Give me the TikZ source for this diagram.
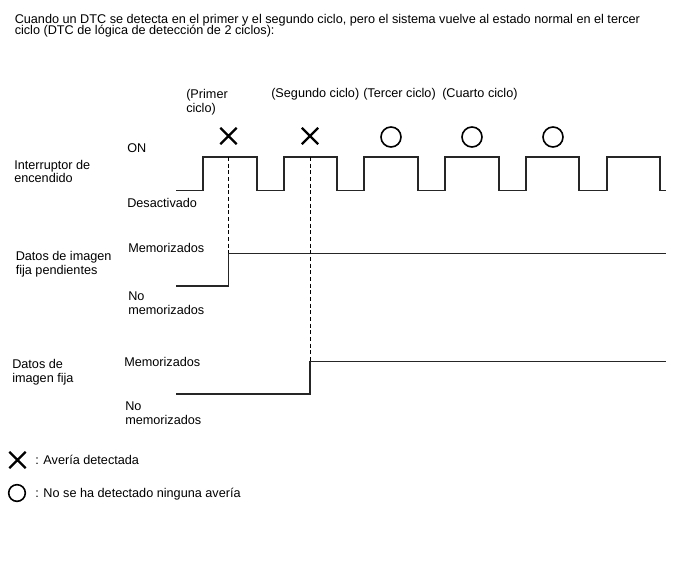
\documentclass[tikz,border=0pt]{standalone}
\usepackage{fontspec}
\setmainfont{Liberation Sans}
\usetikzlibrary{shapes.misc}
\lineskiplimit=-10pt
\begin{document}
\begin{tikzpicture}[x=0.75pt, y=-0.75pt,
	lbl/.style={anchor=base west, inner sep=0, align=left, font=\fontsize{9.5}{10}\selectfont},
	sig/.style={line width=1pt, black!85},
	fault/.style={cross out, draw, line width=1.7pt, minimum size=10.5pt, inner sep=0},
	ok/.style={circle, draw, line width=1.2pt, minimum size=15pt, inner sep=0}]
	\useasboundingbox (0,0) rectangle (688,560);
	\node [lbl, font=\fontsize{9.5}{8.25}\selectfont] (title) at (14.5,34.3) {Cuando un DTC se detecta en el primer y el segundo ciclo, pero el sistema vuelve al estado normal en el tercer\\ciclo (DTC de lógica de detección de 2 ciclos):};
	\node [lbl] (c1) at (186,112) {(Primer\\ciclo)};
	\node [lbl] (c2) at (271,98) {(Segundo ciclo)};
	\node [lbl] (c3) at (363,98) {(Tercer ciclo)};
	\node [lbl] (c4) at (442,98) {(Cuarto ciclo)};
	\node [fault] (x1) at (228.5,136) {};
	\node [fault] (x2) at (310,136) {};
	\node [ok] (o1) at (391,137) {};
	\node [ok] (o2) at (472,137) {};
	\node [ok] (o3) at (553,137) {};
	\node [lbl] (sw) at (14,182.5) {Interruptor de\\encendido};
	\node [lbl] (on) at (127,152) {ON};
	\node [lbl] (off) at (127,207) {Desactivado};
	\draw [sig] (176,190.5) -| (203,157) -| (257,190.5) -| (284,157) -| (337,190.5) -| (364,157) -| (418,190.5) -| (445,157) -| (499,190.5) -| (526,157) -| (579,190.5) -| (607,157) -| (660,190.5) -- (666,190.5);
	\node [lbl] (pend) at (15.5,274) {Datos de imagen\\fija pendientes};
	\node [lbl] (pm) at (128,252.7) {Memorizados};
	\node [lbl] (pn) at (128,314) {No\\memorizados};
	\draw [sig] (176,286) -| (228.5,253.3) -- (666,253.3);
	\node [lbl] (fix) at (12,382) {Datos de\\imagen fija};
	\node [lbl] (fm) at (124,366) {Memorizados};
	\node [lbl] (fn) at (125,424) {No\\memorizados};
	\draw [sig] (176,394) -| (310,361.7) -- (666,361.7);
	\draw [dashed, dash pattern=on 3pt off 2pt, line width=0.6pt] (228.5,157) -- (228.5,253.3);
	\draw [dashed, dash pattern=on 3pt off 2pt, line width=0.6pt] (310,157) -- (310,361.7);
	\node [fault] (kx) at (17.5,460) {};
	\node [lbl] (kxt) at (35,464) {: Avería detectada};
	\node [ok, minimum size=12.5pt] (ko) at (17,493) {};
	\node [lbl] (kot) at (35,497) {: No se ha detectado ninguna avería};
\end{tikzpicture}
\end{document}
